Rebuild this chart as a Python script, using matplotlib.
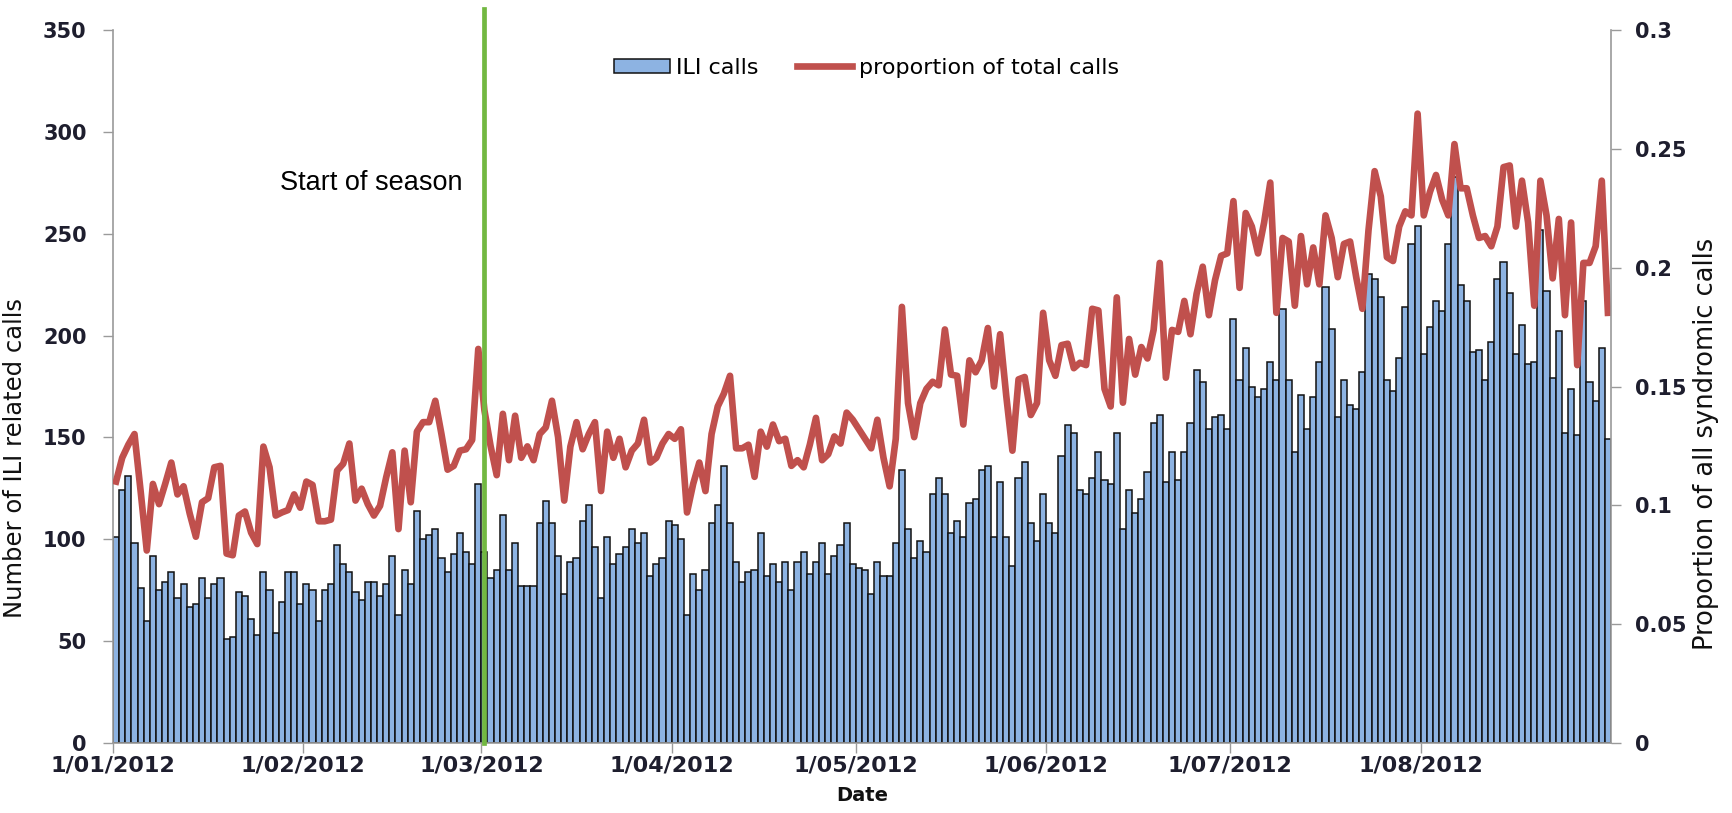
import matplotlib
matplotlib.use('Agg')
import matplotlib.pyplot as plt
import pandas as pd

# Daily number of ILI related calls, one list per month
ili_jan = [101, 124, 131, 98, 76, 60, 92, 75, 79, 84, 71, 78, 67, 68, 81, 71,
           78, 81, 51, 52, 74, 72, 61, 53, 84, 75, 54, 69, 84, 84, 68]
ili_feb = [78, 75, 60, 75, 78, 97, 88, 84, 74, 70, 79, 79, 72, 78, 92, 63,
           85, 78, 114, 100, 102, 105, 91, 84, 93, 103, 94, 88, 127]
ili_mar = [94, 81, 85, 112, 85, 98, 77, 77, 77, 108, 119, 108, 92, 73, 89, 91,
           109, 117, 96, 71, 101, 88, 93, 96, 105, 98, 103, 82, 88, 91, 109]
ili_apr = [107, 100, 63, 83, 75, 85, 108, 117, 136, 108, 89, 79, 84, 85, 103,
           82, 88, 79, 89, 75, 89, 94, 83, 89, 98, 83, 92, 97, 108, 88]
ili_may = [86, 85, 73, 89, 82, 82, 98, 134, 105, 91, 99, 94, 122, 130, 122, 103,
           109, 101, 118, 120, 134, 136, 101, 128, 101, 87, 130, 138, 108, 99, 122]
ili_jun = [108, 103, 141, 156, 152, 124, 122, 130, 143, 129, 127, 152, 105, 124,
           113, 120, 133, 157, 161, 128, 143, 129, 143, 157, 183, 177, 154, 160, 161, 154]
ili_jul = [208, 178, 194, 175, 170, 174, 187, 178, 213, 178, 143, 171, 154, 170,
           187, 224, 203, 160, 178, 166, 164, 182, 230, 228, 219, 178, 173, 189, 214, 245, 254]
ili_aug = [191, 204, 217, 212, 245, 278, 225, 217, 192, 193, 178, 197, 228, 236,
           221, 191, 205, 186, 187, 252, 222, 179, 202, 152, 174, 151, 217, 177, 168, 194, 149]

# Daily proportion of all syndromic calls
prop_jan = [0.110, 0.120, 0.1255, 0.130, 0.106, 0.081, 0.109, 0.1005, 0.109, 0.118,
            0.1046, 0.108, 0.0965, 0.0868, 0.1013, 0.103, 0.116, 0.1166, 0.0797, 0.079,
            0.0957, 0.0974, 0.0885, 0.0837, 0.1247, 0.116, 0.0957, 0.097, 0.098, 0.1046, 0.099]
prop_feb = [0.110, 0.1086, 0.0933, 0.0933, 0.094, 0.1146, 0.1175, 0.126, 0.102, 0.107,
            0.1005, 0.0957, 0.0998, 0.1118, 0.1223, 0.090, 0.123, 0.1013, 0.131, 0.135,
            0.135, 0.144, 0.130, 0.115, 0.1166, 0.123, 0.1236, 0.1275, 0.1658]
prop_mar = [0.140, 0.125, 0.1127, 0.1385, 0.119, 0.1377, 0.120, 0.1248, 0.119, 0.130,
            0.1328, 0.144, 0.1287, 0.102, 0.1247, 0.135, 0.1236, 0.130, 0.135, 0.106,
            0.131, 0.120, 0.128, 0.116, 0.123, 0.126, 0.136, 0.118, 0.120, 0.126, 0.130]
prop_apr = [0.128, 0.132, 0.097, 0.109, 0.118, 0.106, 0.130, 0.1416, 0.147, 0.1545,
            0.124, 0.124, 0.1255, 0.112, 0.131, 0.1247, 0.134, 0.127, 0.128, 0.1166,
            0.119, 0.116, 0.1255, 0.1368, 0.119, 0.1215, 0.129, 0.126, 0.139, 0.136]
prop_may = [0.132, 0.128, 0.124, 0.136, 0.120, 0.108, 0.128, 0.1835, 0.143, 0.1287,
            0.143, 0.149, 0.152, 0.1505, 0.174, 0.155, 0.1545, 0.134, 0.161, 0.156,
            0.161, 0.1746, 0.150, 0.172, 0.146, 0.123, 0.153, 0.154, 0.138, 0.143, 0.181]
prop_jun = [0.161, 0.1545, 0.1674, 0.168, 0.1577, 0.160, 0.159, 0.1827, 0.182, 0.149,
            0.1416, 0.1875, 0.1432, 0.170, 0.155, 0.1666, 0.1618, 0.1738, 0.202, 0.1537,
            0.1738, 0.173, 0.186, 0.172, 0.189, 0.2004, 0.180, 0.1947, 0.205, 0.206]
prop_jul = [0.228, 0.1915, 0.223, 0.2173, 0.206, 0.219, 0.2358, 0.181, 0.2125, 0.211,
            0.184, 0.2133, 0.193, 0.2085, 0.193, 0.222, 0.2125, 0.196, 0.210, 0.211,
            0.196, 0.1827, 0.2157, 0.2406, 0.230, 0.2044, 0.2028, 0.2173, 0.2237, 0.222, 0.2648]
prop_aug = [0.222, 0.2318, 0.239, 0.2286, 0.222, 0.252, 0.2334, 0.2334, 0.222, 0.2125,
            0.2133, 0.209, 0.2173, 0.2423, 0.243, 0.2173, 0.2366, 0.219, 0.184, 0.2366,
            0.222, 0.1955, 0.2205, 0.180, 0.219, 0.159, 0.202, 0.202, 0.209, 0.2366, 0.181]

tick_labels = ['1/01/2012', '1/02/2012', '1/03/2012', '1/04/2012',
               '1/05/2012', '1/06/2012', '1/07/2012', '1/08/2012']
left_ticks = [0, 50, 100, 150, 200, 250, 300, 350]
right_ticks = [0, 0.05, 0.1, 0.15, 0.2, 0.25, 0.3]
right_tick_labels = ['0', '0.05', '0.1', '0.15', '0.2', '0.25', '0.3']
season_start = pd.Timestamp('2012-03-01')

ili_calls = ili_jan + ili_feb + ili_mar + ili_apr + ili_may + ili_jun + ili_jul + ili_aug
proportion = prop_jan + prop_feb + prop_mar + prop_apr + prop_may + prop_jun + prop_jul + prop_aug
dates = pd.date_range('2012-01-01', periods=len(ili_calls), freq='D')
month_starts = pd.date_range('2012-01-01', '2012-08-01', freq='MS')

tick_color = '#1e1e2e'
axis_grey = '#9a9a9a'

fig = plt.figure(figsize=(17.33, 8.13), dpi=100)
ax1 = fig.add_axes([0.0652, 0.0861, 0.8644, 0.877])
ax2 = ax1.twinx()

# Bars: ILI calls per day
bars = ax1.bar(dates, ili_calls, width=1.0, align='edge', color='#8db3e2',
               edgecolor='#111111', linewidth=1.1, label='ILI calls')

# Line: proportion of all syndromic calls
line, = ax2.plot(dates + pd.Timedelta(hours=12), proportion, color='#c0504d',
                 linewidth=4.8, solid_joinstyle='round', label='proportion of total calls')

ax1.set_xlim(dates[0], dates[-1] + pd.Timedelta(days=1))
ax1.set_ylim(0, 350)
ax2.set_ylim(0, 0.3)

ax1.set_yticks(left_ticks)
ax1.set_yticklabels([str(t) for t in left_ticks])
ax2.set_yticks(right_ticks)
ax2.set_yticklabels(right_tick_labels)
ax1.set_xticks(month_starts)
ax1.set_xticklabels(tick_labels)

for ax in (ax1, ax2):
    ax.spines['top'].set_visible(False)
    for s in ('left', 'right', 'bottom'):
        ax.spines[s].set_color(axis_grey)
        ax.spines[s].set_linewidth(1.2)
ax1.spines['right'].set_visible(False)
ax2.spines['left'].set_visible(False)
ax2.spines['bottom'].set_visible(False)

ax1.tick_params(axis='y', direction='out', length=7, width=1, color=axis_grey,
                labelsize=15, pad=12, labelcolor=tick_color)
ax2.tick_params(axis='y', direction='out', length=7, width=1, color=axis_grey,
                labelsize=15, pad=10, labelcolor=tick_color)
ax1.tick_params(axis='x', direction='out', length=7, width=1, color=axis_grey,
                labelsize=16, pad=2, labelcolor=tick_color)
for lbl in ax1.get_xticklabels() + ax1.get_yticklabels() + ax2.get_yticklabels():
    lbl.set_fontweight('bold')

ax1.set_ylabel('Number of ILI related calls', fontsize=17.5, color='#111111')
ax1.yaxis.set_label_coords(-0.0575, 0.40)
ax2.set_ylabel('Proportion of all syndromic calls', fontsize=18.5, color='#111111', rotation=90)
ax2.yaxis.set_label_coords(1.055, 0.42)
ax1.set_xlabel('Date', fontsize=14, fontweight='bold', color='#111111')
ax1.xaxis.set_label_coords(0.5, -0.060)

# Start of season marker
ax2.axvline(season_start + pd.Timedelta(hours=12), ymin=0, ymax=1.029, color='#72b841',
            linewidth=3.4, clip_on=False, zorder=6)
ax1.text(pd.Timestamp('2012-02-27'), 275, 'Start of season', ha='right', va='center',
         fontsize=19.5, family='Liberation Sans', color='#000000')

ax2.legend([bars, line], ['ILI calls', 'proportion of total calls'], loc='center',
           bbox_to_anchor=(0.503, 0.947), ncol=2, frameon=False, fontsize=16,
           handlelength=2.5, handleheight=0.6, handletextpad=0.3, columnspacing=1.7)

fig.savefig('out.png', dpi=100)
